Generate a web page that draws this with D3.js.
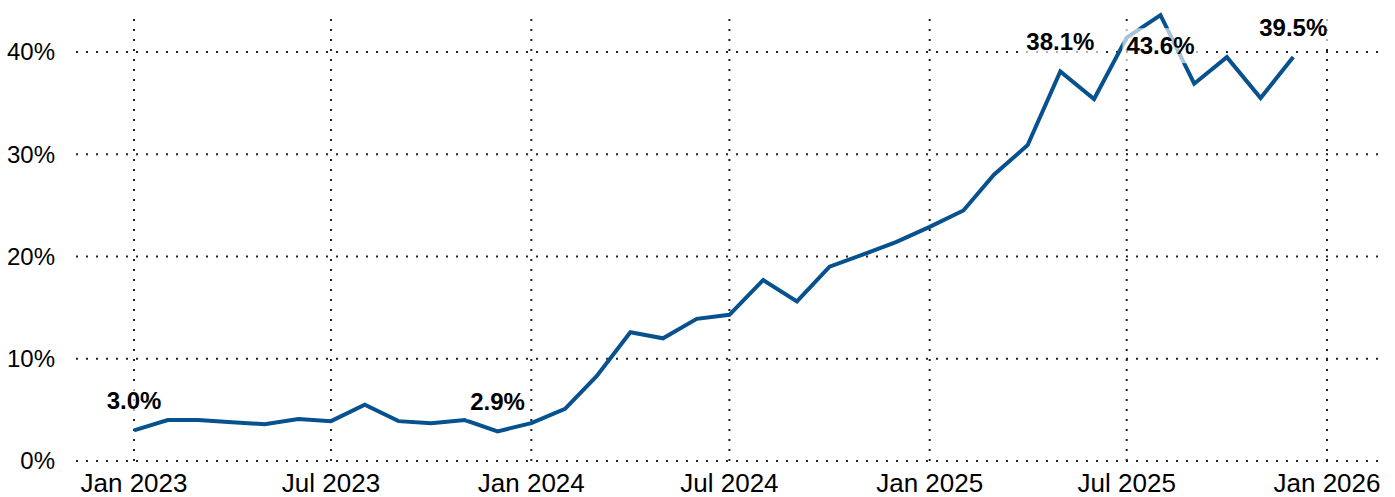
<!DOCTYPE html>
<html>
<head>
<meta charset="utf-8">
<script src="https://cdn.jsdelivr.net/npm/d3@7"></script>
<style>
  body { margin: 0; background: #fff; }
  text { font-family: "Liberation Sans", Arial, sans-serif; }
</style>
</head>
<body>
<div id="chart"></div>
<script>
// monthly values, Jan 2023 .. Dec 2025
const months = d3.timeMonths(new Date(2023, 0, 1), new Date(2026, 0, 1));
const values = [
  3.0, 4.0, 4.0, 3.8, 3.6, 4.1, 3.9, 5.5, 3.9, 3.7, 4.0, 2.9,
  3.7, 5.1, 8.3, 12.6, 12.0, 13.9, 14.3, 17.7, 15.6, 19.0, 20.2, 21.4,
  22.9, 24.5, 28.0, 30.9, 38.1, 35.4, 41.4, 43.6, 36.9, 39.5, 35.5, 39.5
];
const yTicks = [0, 10, 20, 30, 40];
const xTicks = [
  new Date(2023, 0, 1), new Date(2023, 6, 1), new Date(2024, 0, 1),
  new Date(2024, 6, 1), new Date(2025, 0, 1), new Date(2025, 6, 1),
  new Date(2026, 0, 1)
];
// labelled points: index into values, and side of the line
const labelIdx = [0, 11, 28, 31, 35];
const labelSide = ["above", "above", "above", "below", "above"];

const width = 1395;
const height = 497;

const data = months.map((d, i) => ({ date: d, value: values[i] }));

const x = d3.scaleTime()
  .domain([new Date(2023, 0, 1), new Date(2026, 0, 1)])
  .range([134, 1327]);

const y = d3.scaleLinear()
  .domain([0, 40])
  .range([461, 52]);

const svg = d3.select("#chart")
  .append("svg")
  .attr("width", width)
  .attr("height", height);

// grid
svg.append("g")
  .selectAll("line")
  .data(yTicks)
  .enter().append("line")
  .attr("x1", 76)
  .attr("x2", 1380)
  .attr("y1", d => y(d))
  .attr("y2", d => y(d))
  .attr("stroke", "#222")
  .attr("stroke-width", 2)
  .attr("stroke-dasharray", "2,8");

svg.append("g")
  .selectAll("line")
  .data(xTicks)
  .enter().append("line")
  .attr("x1", d => x(d))
  .attr("x2", d => x(d))
  .attr("y1", y(0))
  .attr("y2", 11)
  .attr("stroke", "#222")
  .attr("stroke-width", 2)
  .attr("stroke-dasharray", "2,8");

// axis labels
svg.append("g")
  .selectAll("text")
  .data(yTicks)
  .enter().append("text")
  .attr("x", 55)
  .attr("y", d => y(d))
  .attr("dy", "0.35em")
  .attr("text-anchor", "end")
  .attr("font-size", "24px")
  .attr("fill", "#000")
  .text(d => d + "%");

const fmt = d3.timeFormat("%b %Y");
svg.append("g")
  .selectAll("text")
  .data(xTicks)
  .enter().append("text")
  .attr("x", d => x(d))
  .attr("y", 492)
  .attr("text-anchor", "middle")
  .attr("font-size", "26px")
  .attr("fill", "#000")
  .text(d => fmt(d));

// line
const line = d3.line()
  .x(d => x(d.date))
  .y(d => y(d.value));

svg.append("path")
  .datum(data)
  .attr("fill", "none")
  .attr("stroke", "#07518f")
  .attr("stroke-width", 4)
  .attr("stroke-linejoin", "miter")
  .attr("d", line);

// point labels with translucent backing
const labels = labelIdx.map((i, k) => ({ d: data[i], side: labelSide[k] }));

const lg = svg.append("g")
  .selectAll("g")
  .data(labels)
  .enter().append("g");

const lt = lg.append("text")
  .attr("x", l => x(l.d.date))
  .attr("y", l => l.side === "above" ? y(l.d.value) - 21 : y(l.d.value) + 39)
  .attr("text-anchor", "middle")
  .attr("font-size", "24px")
  .attr("font-weight", "bold")
  .attr("fill", "#000")
  .text(l => l.d.value.toFixed(1) + "%");

lt.each(function () {
  const b = this.getBBox();
  d3.select(this.parentNode).insert("rect", "text")
    .attr("x", b.x - 4)
    .attr("y", b.y - 4)
    .attr("width", b.width + 8)
    .attr("height", b.height + 8)
    .attr("fill", "#fff")
    .attr("fill-opacity", 0.65);
});
</script>
</body>
</html>
